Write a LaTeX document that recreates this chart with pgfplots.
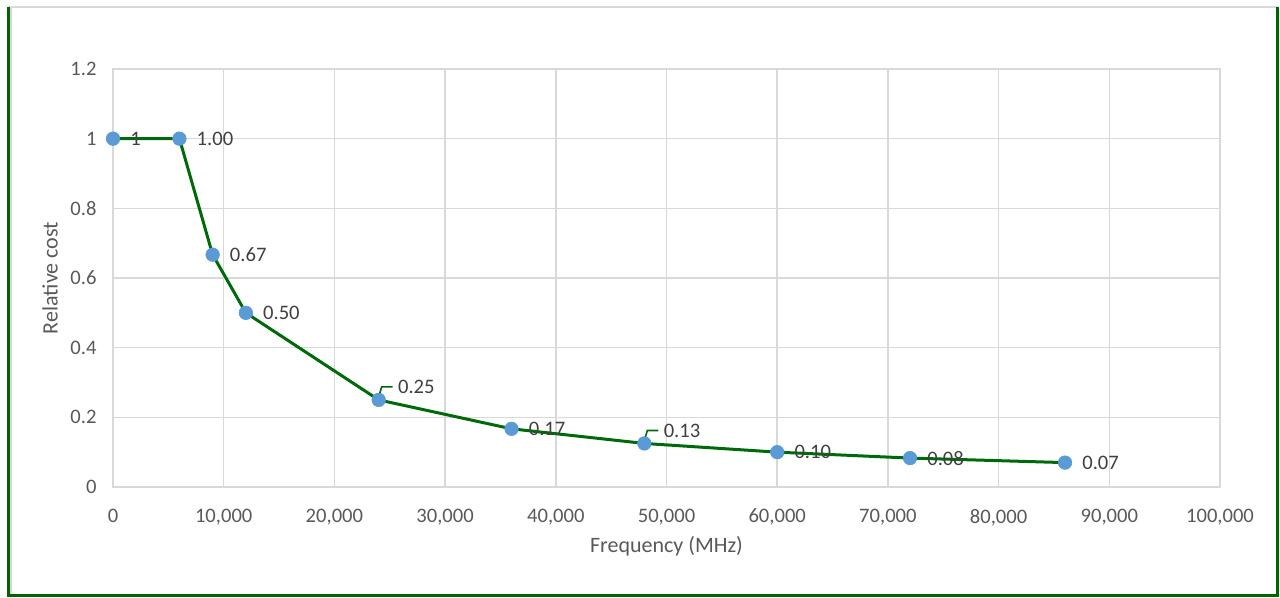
\documentclass[border=0pt]{standalone}
\usepackage{fontspec}
\setmainfont{Carlito}
\usepackage{pgfplots}
\pgfplotsset{compat=1.18}
\definecolor{linegreen}{HTML}{006A0A}
\definecolor{framegreen}{HTML}{006400}
\definecolor{markblue}{HTML}{5B9BD5}
\definecolor{gridgray}{HTML}{D9D9D9}
\definecolor{txtgray}{HTML}{595959}
\definecolor{lblgray}{HTML}{404040}

\begin{document}
\begin{tikzpicture}
\useasboundingbox (0,0) rectangle (640pt,299pt);
% chart frame
\draw[gridgray, line width=1pt] (4pt,295.5pt) -- (638.8pt,295.5pt);
\draw[gridgray, line width=0.6pt] (5.5pt,295.5pt) -- (5.5pt,2pt);
\draw[framegreen, line width=1.5pt] (4pt,295.5pt) -- (4pt,1pt) -- (638.8pt,1pt) -- (638.8pt,295.5pt);
\begin{axis}[
    at={(56.5pt,55.5pt)}, anchor=south west,
    scale only axis,
    width=553.5pt, height=209pt,
    xmin=0, xmax=100000,
    ymin=0, ymax=1.2,
    xtick={0,10000,20000,30000,40000,50000,60000,70000,80000,90000,100000},
    ytick={0,0.2,0.4,0.6,0.8,1,1.2},
    scaled x ticks=false,
    scaled y ticks=false,
    /pgf/number format/.cd, fixed, 1000 sep={,}, assume math mode=true,
    /pgfplots/.cd,
    major tick length=0pt,
    grid=major,
    grid style={gridgray, line width=0.75pt},
    axis line style={gridgray, line width=0.75pt},
    ticklabel style={font=\fontsize{10.3}{12}\selectfont, text=txtgray},
    xticklabel style={yshift=-7.5pt},
    yticklabel style={xshift=-4.7pt},
    xlabel={Frequency (MHz)},
    ylabel={Relative cost},
    label style={font=\fontsize{11}{13}\selectfont, text=txtgray},
    xlabel style={at={(axis description cs:0.5,-0.1411)}, anchor=center},
    ylabel style={at={(axis description cs:-0.0569,0.5)}, anchor=center},
    clip=false,
]
\addplot[linegreen, line width=1.5pt, mark=*, mark size=3.4pt,
    mark options={solid, line width=0.3pt, draw=markblue, fill=markblue},
    nodes near coords, point meta=explicit symbolic,
    nodes near coords style={anchor=west, xshift=8.5pt, yshift=0pt, text=lblgray,
        font=\fontsize{10.3}{12}\selectfont, inner sep=0pt}]
coordinates {
    (0,1) [1]
    (6000,1) [1.00]
    (9000,0.667) [0.67]
    (12000,0.5) [0.50]
    (24000,0.25) []
    (36000,0.167) [0.17]
    (48000,0.125) []
    (60000,0.1) [0.10]
    (72000,0.083) [0.08]
    (86000,0.07) [0.07]
};
% labels moved up, with leader lines
\addplot[draw=none, mark=none,
    nodes near coords, point meta=explicit symbolic,
    nodes near coords style={anchor=west, xshift=9.5pt, yshift=6.5pt, text=lblgray,
        font=\fontsize{10.3}{12}\selectfont, inner sep=0pt}]
coordinates {
    (24000,0.25) [0.25]
    (48000,0.125) [0.13]
};
\draw[linegreen, line width=0.8pt]
    ([yshift=1.5pt]axis cs:24000,0.25) -- ([xshift=1.5pt,yshift=6.5pt]axis cs:24000,0.25) -- ([xshift=7pt,yshift=6.5pt]axis cs:24000,0.25);
\draw[linegreen, line width=0.8pt]
    ([yshift=1.5pt]axis cs:48000,0.125) -- ([xshift=1.5pt,yshift=6.5pt]axis cs:48000,0.125) -- ([xshift=7pt,yshift=6.5pt]axis cs:48000,0.125);
\end{axis}
\end{tikzpicture}
\end{document}
